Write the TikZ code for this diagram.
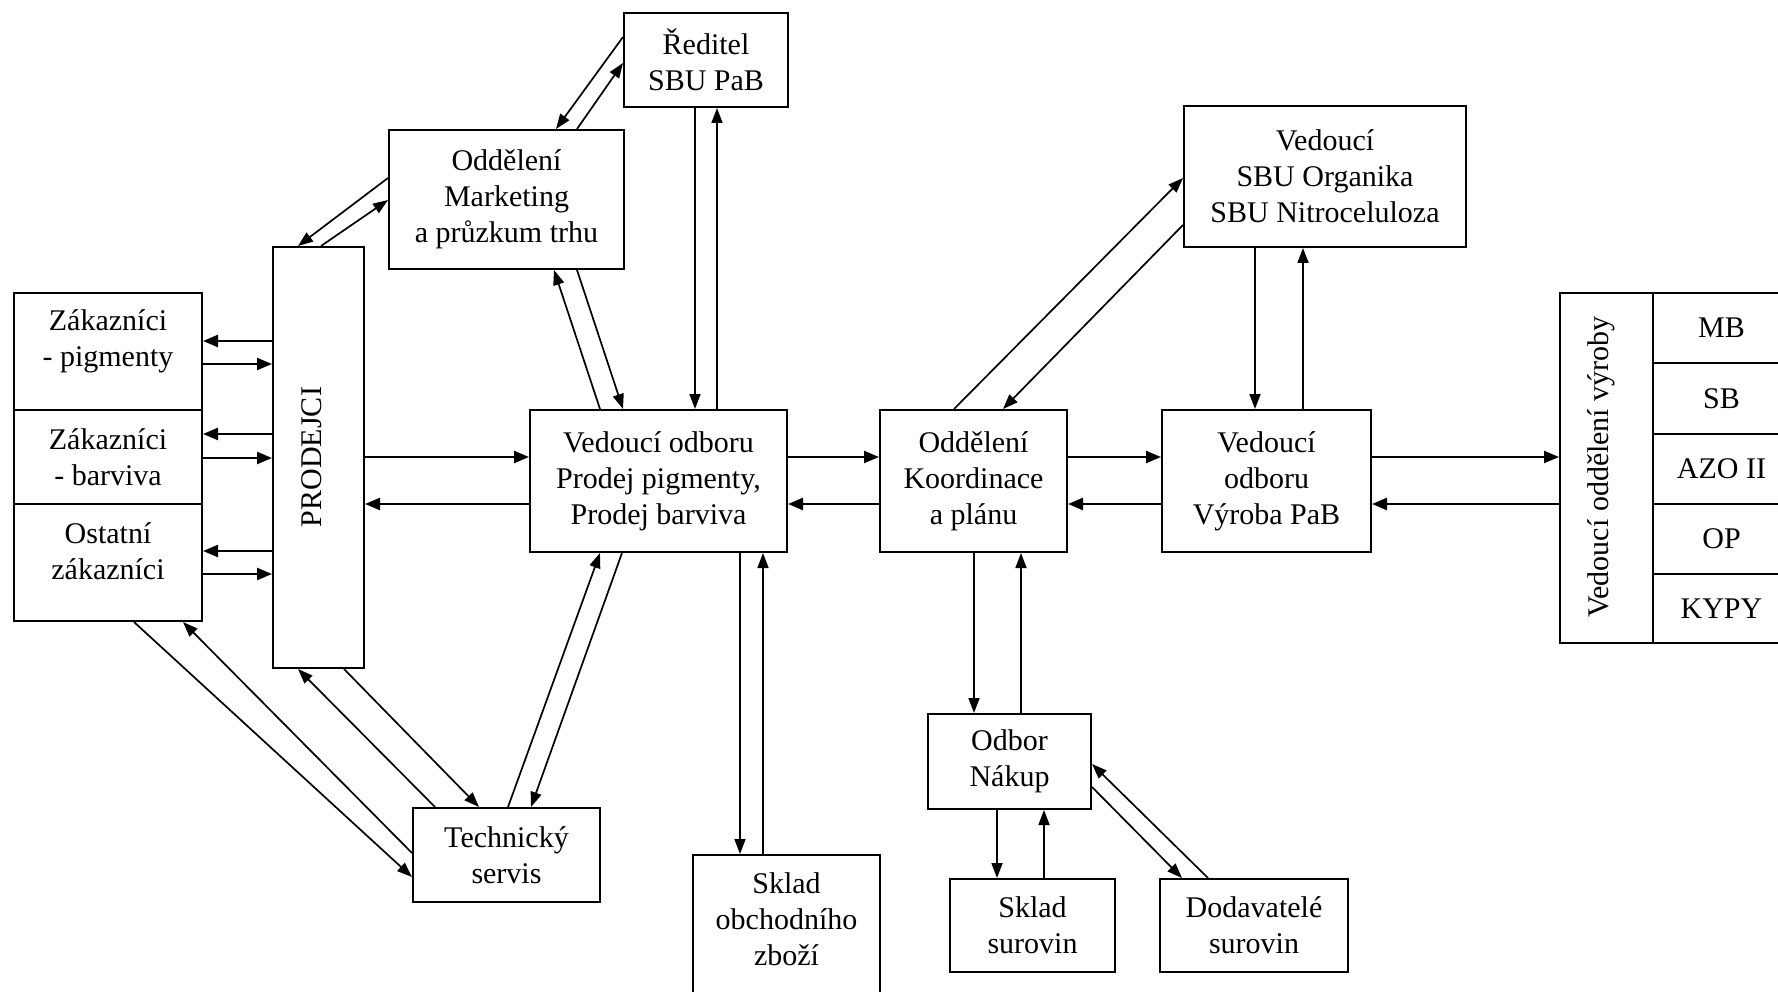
\documentclass[tikz,border=0pt]{standalone}
\usepackage{fontspec}
\setmainfont{Liberation Serif}
\usetikzlibrary{arrows.meta}
\begin{document}
\begin{tikzpicture}[x=1pt,y=-1pt,
  box/.style={draw, line width=2pt, inner sep=0pt, align=center,
    font=\fontsize{30}{36}\selectfont},
  txt/.style={inner sep=0pt, align=center, font=\fontsize{30}{36}\selectfont},
  link/.style={line width=1.7pt, -{Triangle[length=15pt,width=11pt]}},
  flow/.style={line width=2.3pt, -{Triangle[length=15pt,width=12pt]}}]

\useasboundingbox (0,0) rectangle (1778,992);
\fill[white] (0,0) rectangle (1778,992);
\clip (0,0) rectangle (1778,992);

% --- sales side ---
\node[box, minimum width=164pt, minimum height=94pt]  (red) at (706,60) {Ředitel\\SBU PaB};
\node[box, minimum width=235pt, minimum height=139pt] (mk)  at (506.5,199.5) {Oddělení\\Marketing\\a průzkum trhu};
\node[box, minimum width=91pt,  minimum height=421pt] (pro) at (318.5,457.5) {};
\node[txt, rotate=90] (prot) at (312,457) {PRODEJCI};

\node[box, minimum width=188pt, minimum height=117pt] (zp) at (108,351.5) {};
\node[txt] (zpt) at (108,341) {Zákazníci\\- pigmenty};
\node[box, minimum width=188pt, minimum height=94pt]  (zb) at (108,457) {Zákazníci\\- barviva};
\node[box, minimum width=188pt, minimum height=117pt] (zo) at (108,562.5) {};
\node[txt] (zot) at (108,551) {Ostatní\\zákazníci};

\node[box, minimum width=257pt, minimum height=142pt] (vp) at (658.5,481) {Vedoucí odboru\\Prodej pigmenty,\\Prodej barviva};
\node[box, minimum width=187pt, minimum height=94pt]  (ts) at (506.5,855) {Technický\\servis};
\node[box, minimum width=187pt, minimum height=160pt] (sk) at (786.5,935) {};
\node[txt] (skt) at (786.5,919) {Sklad\\obchodního\\zboží};

% --- production side ---
\node[box, minimum width=187pt, minimum height=142pt] (ko)  at (973.5,481) {Oddělení\\Koordinace\\a plánu};
\node[box, minimum width=209pt, minimum height=142pt] (vy)  at (1266.5,481) {Vedoucí\\odboru\\Výroba PaB};
\node[box, minimum width=282pt, minimum height=141pt] (sbu) at (1325,176.5) {Vedoucí\\SBU Organika\\SBU Nitroceluloza};
\node[box, minimum width=163pt, minimum height=95pt]  (nak) at (1009.5,761.5) {Odbor\\Nákup};
\node[box, minimum width=165pt, minimum height=93pt]  (ss)  at (1032.5,925.5) {Sklad\\surovin};
\node[box, minimum width=188pt, minimum height=93pt]  (dod) at (1254,925.5) {Dodavatelé\\surovin};

\node[box, minimum width=93pt, minimum height=350pt] (vov) at (1606.5,468) {};
\node[txt, rotate=90] (vovt) at (1601,467) {Vedoucí oddělení výroby};
\node[box, minimum width=137pt, minimum height=70pt] (c1) at (1721.5,328)   {MB};
\node[box, minimum width=137pt, minimum height=71pt] (c2) at (1721.5,398.5) {SB};
\node[box, minimum width=137pt, minimum height=70pt] (c3) at (1721.5,469)   {AZO II};
\node[box, minimum width=137pt, minimum height=70pt] (c4) at (1721.5,539)   {OP};
\node[box, minimum width=137pt, minimum height=69pt] (c5) at (1721.5,608.5) {KYPY};

% --- customers <-> sales reps ---
\draw[flow] ([yshift=116.5pt]pro.west) -- ([yshift=10.5pt]zp.east);
\draw[flow] ([yshift=-12.5pt]zp.east) -- ([yshift=93.5pt]pro.west);
\draw[flow] ([yshift=23.5pt]pro.west) -- ([yshift=23pt]zb.east);
\draw[flow] ([yshift=-1pt]zb.east) -- ([yshift=-0.5pt]pro.west);
\draw[flow] ([yshift=-93.5pt]pro.west) -- ([yshift=11.5pt]zo.east);
\draw[flow] ([yshift=-11.5pt]zo.east) -- ([yshift=-116.5pt]pro.west);

% --- main horizontal chain ---
\draw[flow] ([yshift=0.5pt]pro.east) -- ([yshift=24pt]vp.west);
\draw[flow] ([yshift=-23pt]vp.west) -- ([yshift=-46.5pt]pro.east);
\draw[flow] ([yshift=24pt]vp.east) -- ([yshift=24pt]ko.west);
\draw[flow] ([yshift=-23pt]ko.west) -- ([yshift=-23pt]vp.east);
\draw[flow] ([yshift=24pt]ko.east) -- ([yshift=24pt]vy.west);
\draw[flow] ([yshift=-23pt]vy.west) -- ([yshift=-23pt]ko.east);
\draw[flow] ([yshift=24pt]vy.east) -- ([yshift=11pt]vov.west);
\draw[flow] ([yshift=-36pt]vov.west) -- ([yshift=-23pt]vy.east);

% --- director and marketing ---
\draw[link] ([yshift=23pt]red.west) -- ([xshift=49.5pt]mk.north);
\draw[link] ([xshift=70.5pt]mk.north) -- ([yshift=-3pt]red.west);
\draw[link] ([yshift=21.5pt]mk.west) -- ([xshift=-20.5pt]pro.north);
\draw[link] ([xshift=2.5pt]pro.north) -- ([yshift=-0.5pt]mk.west);
\draw[link] ([xshift=-11pt]red.south) -- ([xshift=36.5pt]vp.north);
\draw[link] ([xshift=58.5pt]vp.north) -- ([xshift=11pt]red.south);
\draw[link] ([xshift=-58.5pt]vp.north) -- ([xshift=47.5pt]mk.south);
\draw[link] ([xshift=70.5pt]mk.south) -- ([xshift=-35.5pt]vp.north);

% --- technical service ---
\draw[link] ([xshift=26pt]zo.south) -- ([yshift=-22pt]ts.west);
\draw[link] ([yshift=2pt]ts.west) -- ([xshift=75pt]zo.south);
\draw[link] ([xshift=-71.5pt]ts.north) -- ([xshift=-20.5pt]pro.south);
\draw[link] ([xshift=25.5pt]pro.south) -- ([xshift=-27.5pt]ts.north);
\draw[link] ([xshift=1.5pt]ts.north) -- ([xshift=-58.5pt]vp.south);
\draw[link] ([xshift=-36.5pt]vp.south) -- ([xshift=24.5pt]ts.north);

% --- goods store ---
\draw[link] ([xshift=81.5pt]vp.south) -- ([xshift=-46.5pt]sk.north);
\draw[link] ([xshift=-23.5pt]sk.north) -- ([xshift=104.5pt]vp.south);

% --- SBU heads and production ---
\draw[link] ([xshift=-19.5pt]ko.north) -- ([yshift=-1.5pt]sbu.west);
\draw[link] ([yshift=-48.5pt]sbu.west) -- ([xshift=29.5pt]ko.north);
\draw[link] ([xshift=-70pt]sbu.south) -- ([xshift=-11.5pt]vy.north);
\draw[link] ([xshift=36.5pt]vy.north) -- ([xshift=-22pt]sbu.south);

% --- purchasing ---
\draw[link] ([xshift=0.5pt]ko.south) -- ([xshift=-35.5pt]nak.north);
\draw[link] ([xshift=11.5pt]nak.north) -- ([xshift=47.5pt]ko.south);
\draw[link] ([xshift=-12.5pt]nak.south) -- ([xshift=-35.5pt]ss.north);
\draw[link] ([xshift=11.5pt]ss.north) -- ([xshift=34.5pt]nak.south);
\draw[link] ([yshift=-25.5pt]nak.east) -- ([xshift=-72pt]dod.north);
\draw[link] ([xshift=-46pt]dod.north) -- ([yshift=-2.5pt]nak.east);

\end{tikzpicture}
\end{document}
